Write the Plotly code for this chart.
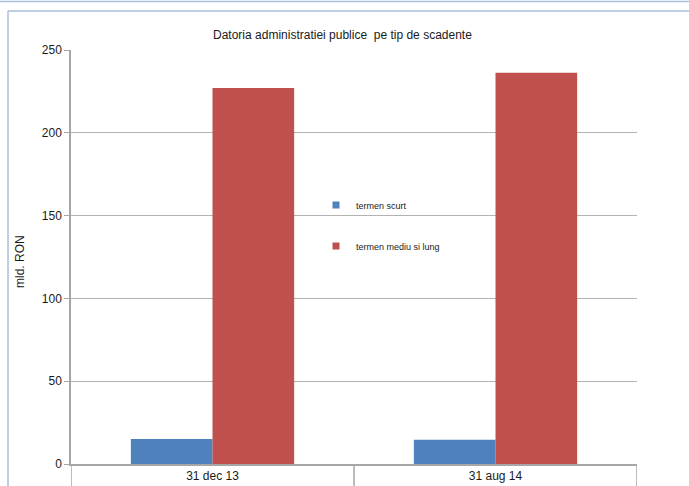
import plotly.graph_objects as go

categories = ["31 dec 13", "31 aug 14"]
termen_scurt = [15.1, 14.6]
termen_mediu_lung = [227.0, 236.2]
series_names = ["termen scurt", "termen mediu si lung"]
colors = ["#4f81bd", "#c0504d"]
y_ticks = [0, 50, 100, 150, 200, 250]

W, H = 689, 486
L, R, T, B = 71, 52, 50, 22
pw, ph = W - L - R, H - T - B

def px_x(x):
    return (x - L) / pw

def px_y(y):
    return (H - B - y) / ph

FONT = "Liberation Sans, Arial, sans-serif"

fig = go.Figure()
for name, vals, col in zip(series_names, [termen_scurt, termen_mediu_lung], colors):
    fig.add_trace(go.Bar(x=categories, y=vals, name=name, marker=dict(color=col, line=dict(width=0)),
                         showlegend=False))

# legend entries with small square markers
fig.add_trace(go.Scatter(x=[None], y=[None], mode="markers", name=series_names[0],
                         marker=dict(symbol="square", size=7, color=colors[0]), legend="legend"))
fig.add_trace(go.Scatter(x=[None], y=[None], mode="markers", name=series_names[1],
                         marker=dict(symbol="square", size=7, color=colors[1]), legend="legend2"))

legend_common = dict(font=dict(family=FONT, size=9, color="#1a1a1a"), bgcolor="rgba(0,0,0,0)",
                     xanchor="left", yanchor="middle", itemwidth=30)

# category boundary ticks below the x axis
n = len(categories)
for i in range(n + 1):
    fig.add_shape(type="line", xref="x", yref="paper", x0=i - 0.5, x1=i - 0.5,
                  y0=0, y1=px_y(H + 5), line=dict(color="#a6a6a6", width=1.5))

# outer frame lines
frame_col = "#a9bfdc"
fig.add_shape(type="line", xref="paper", yref="paper", x0=px_x(0), x1=px_x(W),
              y0=px_y(1.5), y1=px_y(1.5), line=dict(color=frame_col, width=1.5))
fig.add_shape(type="line", xref="paper", yref="paper", x0=px_x(8), x1=px_x(W),
              y0=px_y(11), y1=px_y(11), line=dict(color=frame_col, width=1.5))
fig.add_shape(type="line", xref="paper", yref="paper", x0=px_x(8), x1=px_x(8),
              y0=px_y(11), y1=px_y(H + 5), line=dict(color=frame_col, width=1.5))

fig.add_annotation(text="mld. RON", xref="paper", yref="paper", x=px_x(20), y=px_y(262),
                   xanchor="center", yanchor="middle", textangle=-90, showarrow=False,
                   font=dict(family=FONT, size=12, color="#1a1a1a"))

fig.update_layout(
    width=W, height=H,
    margin=dict(l=L, r=R, t=T, b=B, autoexpand=False),
    paper_bgcolor="white", plot_bgcolor="white",
    font=dict(family=FONT, size=12, color="#1a1a1a"),
    title=dict(text="Datoria administratiei publice \u00a0pe tip de scadente",
               x=0.497, xanchor="center", y=1 - 35 / H, yanchor="middle", yref="container",
               font=dict(family=FONT, size=12, color="#1a1a1a")),
    barmode="group", bargap=0.423, bargroupgap=0,
    legend=dict(x=px_x(316), y=px_y(205), **legend_common),
    legend2=dict(x=px_x(316), y=px_y(246), **legend_common),
    xaxis=dict(showline=True, linecolor="#a6a6a6", linewidth=1.5, ticks="", showgrid=False,
               tickfont=dict(size=12), range=[-0.5, n - 0.5], fixedrange=True),
    yaxis=dict(range=[0, 250], tickvals=y_ticks, showgrid=True, gridcolor="#b3b3b3", gridwidth=1,
               showline=True, linecolor="#a6a6a6", linewidth=1.5, ticks="outside", ticklen=5,
               tickcolor="#a6a6a6", zeroline=False, tickfont=dict(size=12)),
)

fig.write_html("out.html", config={"displayModeBar": False},
               post_script="document.body.style.margin='0';document.body.style.overflow='hidden';")
